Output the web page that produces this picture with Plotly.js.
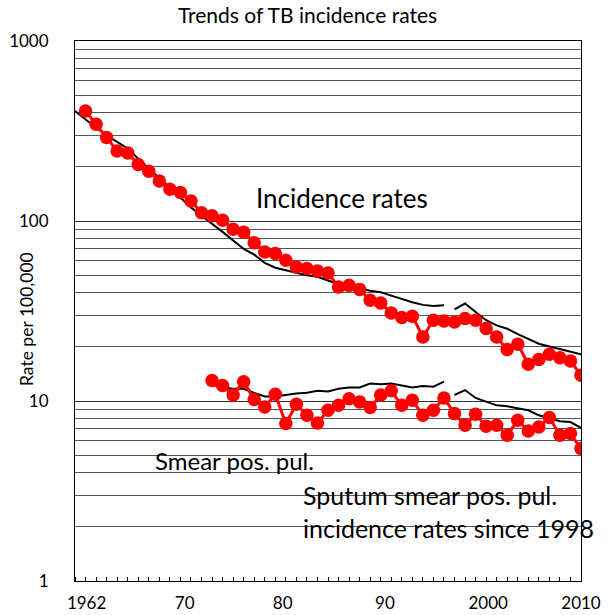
<!DOCTYPE html>
<html>
<head>
<meta charset="utf-8">
<script src="https://cdn.plot.ly/plotly-3.0.1.min.js"></script>
<style>
html,body{margin:0;padding:0;background:#fff;}
#chart{width:615px;height:615px;}
</style>
</head>
<body>
<div id="chart"></div>
<script>
// ---- Data ----
var incidenceStart = 1963;
var incidenceRates = [408,345,291,245,239,206,189,167,150,144,129,111,107,101,90,86.5,75.8,67.3,65.9,60.5,55.5,
  54.4,52.8,51.4,43.0,43.9,41.7,36.3,35.0,30.8,29.1,29.6,22.7,28.1,27.8,27.5,28.7,28.1,25.3,22.7,19.3,20.7,16.0,17.0,18.2,17.4,16.7,13.9];

var incTrendOldStart = 1962;
var incTrendOld = [408,365,330,299,275,253,222,195,174,153,135,119,107,97,87,78,70,65,58.5,55,53.3,51.5,50,49,46.5,44.5,43,42.3,41,40.2,38.5,36.8,35.4,34.2,33.7,34.0];
var incTrendNewStart = 1998;
var incTrendNew = [32.3,34.8,31.2,28.1,26.3,25.2,23.5,22.2,20.8,20.1,19.4,18.9,18.2];

var smearStart = 1975;
var smearRates = [13.0,12.2,10.8,12.8,10.2,9.26,10.9,7.49,9.59,8.33,7.55,8.88,9.46,10.3,9.87,9.19,10.8,11.4,9.46,10.1,8.33,8.88,10.4,8.51,7.33,8.43,7.24,7.33,6.45,7.81,6.81,7.17,8.09,6.45,6.59,5.44];

var smearTrendOldStart = 1975;
var smearTrendOld = [12.3,11.9,11.7,11.7,11.1,10.6,10.6,10.85,11.0,11.1,11.4,11.3,11.7,11.9,11.9,12.5,12.4,12.5,12.2,11.9,12.1,12.0,12.8];
var smearTrendNewStart = 1998;
var smearTrendNew = [10.8,11.5,10.4,9.88,9.46,9.35,9.07,8.88,8.33,7.98,7.71,7.64,7.08];

var xTickLabels = ['1962','70','80','90','2000','2010'];
var yTickLabels = ['1','10','100','1000'];
var yTickValues = [1,10,100,1000];

// ---- helpers ----
function years(start, arr){ var out=[]; for(var i=0;i<arr.length;i++){ out.push(start+i);} return out; }

// tick label positions as they appear in the picture
var xTickPositions = [1963.1, 1972.4, 1981.7, 1991.4, 2001.2, 2010];

var minorY = [];
[1,10,100].forEach(function(d){ for(var k=2;k<=9;k++){ minorY.push(k*d); } });

var FONT = 'Lato, "Open Sans", sans-serif';
var red = '#ff0000';

var traces = [
  {x: years(incTrendOldStart, incTrendOld), y: incTrendOld, mode:'lines', line:{color:'#000', width:2}, hoverinfo:'skip'},
  {x: years(incTrendNewStart, incTrendNew), y: incTrendNew, mode:'lines', line:{color:'#000', width:2}, hoverinfo:'skip'},
  {x: years(smearTrendOldStart, smearTrendOld), y: smearTrendOld, mode:'lines', line:{color:'#000', width:2}, hoverinfo:'skip'},
  {x: years(smearTrendNewStart, smearTrendNew), y: smearTrendNew, mode:'lines', line:{color:'#000', width:2}, hoverinfo:'skip'},
  {x: years(incidenceStart, incidenceRates), y: incidenceRates, mode:'lines+markers', line:{color:red, width:3}, marker:{color:red, size:13.5}},
  {x: years(smearStart, smearRates), y: smearRates, mode:'lines+markers', line:{color:red, width:3}, marker:{color:red, size:13.5}}
];

var layout = {
  width:615, height:615,
  margin:{l:75, r:34, t:41, b:34},
  paper_bgcolor:'#fff', plot_bgcolor:'#fff',
  showlegend:false,
  font:{family:FONT, color:'#000'},
  title:{text:'Trends of TB incidence rates', font:{family:FONT, size:21, color:'#000'},
         x:0.5, xanchor:'center', xref:'container', y:1-16/615, yanchor:'middle', yref:'container'},
  xaxis:{
    range:[1962, 2010], showgrid:false, zeroline:false,
    showline:true, linecolor:'#000', linewidth:1, mirror:true,
    tickmode:'array', tickvals:xTickPositions, ticktext:xTickLabels,
    ticks:'', tickfont:{family:FONT, size:17, color:'#000'}, ticklabelstandoff:7,
    minor:{ticks:'inside', ticklen:4, tickcolor:'#000', tickwidth:1, tick0:1962, dtick:1, showgrid:false}
  },
  yaxis:{
    type:'log', range:[0,3], zeroline:false,
    showline:true, linecolor:'#000', linewidth:1, mirror:true,
    tickmode:'array', tickvals:yTickValues, ticktext:yTickLabels,
    ticks:'', tickfont:{family:FONT, size:17, color:'#000'}, ticklabelstandoff:22,
    showgrid:true, gridcolor:'#333', gridwidth:1,
    minor:{tickmode:'array', tickvals:minorY, showgrid:true, gridcolor:'#555', gridwidth:1, ticks:''}
  },
  annotations:[
    {text:'Rate per 100,000', xref:'paper', yref:'paper', x:(26-75)/506, y:(581-319)/540, textangle:-90, showarrow:false,
     xanchor:'center', yanchor:'middle', font:{family:FONT, size:17.5, color:'#000'}},
    {text:'Incidence rates', xref:'paper', yref:'paper', x:(254-75)/506, y:(581-198)/540, showarrow:false,
     xanchor:'left', yanchor:'middle', font:{family:FONT, size:26, color:'#000'}},
    {text:'Smear pos. pul.', xref:'paper', yref:'paper', x:(153-75)/506, y:(581-460)/540, showarrow:false,
     xanchor:'left', yanchor:'middle', font:{family:FONT, size:24, color:'#000'}},
    {text:'Sputum smear pos. pul.<br>incidence rates since 1998', xref:'paper', yref:'paper', x:(301-75)/506, y:(581-511)/540, showarrow:false,
     xanchor:'left', yanchor:'middle', align:'left', font:{family:FONT, size:25, color:'#000'}}
  ]
};

Plotly.newPlot('chart', traces, layout, {staticPlot:true, displayModeBar:false});
</script>
</body>
</html>
